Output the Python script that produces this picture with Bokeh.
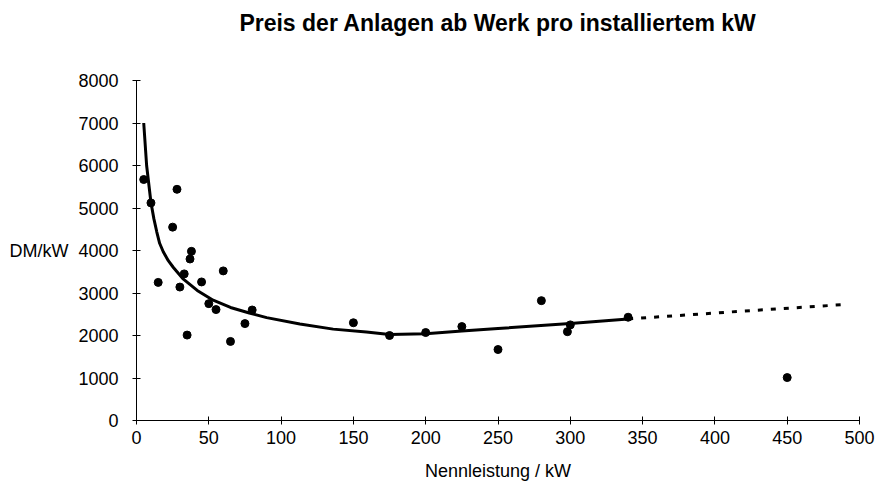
from bokeh.plotting import figure
from bokeh.models import FixedTicker, Range1d, Title
from bokeh.embed import file_html
from bokeh.resources import INLINE

# Measured plants: rated power (kW) and price ex works (DM/kW)
kw = [5, 10, 15, 25, 28, 30, 33, 35, 37, 38, 45, 50, 55, 60, 65, 75, 80,
      150, 175, 200, 225, 250, 280, 298, 300, 340, 450]
preis = [5670, 5120, 3250, 4550, 5440, 3140, 3450, 2010, 3800, 3980, 3260, 2750,
         2610, 3520, 1860, 2280, 2600, 2300, 2000, 2070, 2210, 1670, 2820, 2090,
         2250, 2430, 1010]

# Trend curve (solid part)
trend_kw = [5, 7, 10, 12, 14, 16, 18.5, 22, 25.5, 32, 42, 53, 65, 78, 90, 113,
            136, 159, 175, 200, 225, 250, 300, 340]
trend_preis = [7000, 6000, 5130, 4750, 4440, 4170, 3970, 3760, 3600, 3340, 3060,
               2830, 2660, 2530, 2420, 2270, 2150, 2080, 2025, 2040, 2105, 2165,
               2285, 2390]

# Extrapolated (dotted) part
extra_kw = [340, 420, 488]
extra_preis = [2390, 2575, 2725]

x_ticks = [0, 50, 100, 150, 200, 250, 300, 350, 400, 450, 500]
y_ticks = [0, 1000, 2000, 3000, 4000, 5000, 6000, 7000, 8000]

FONT = "Liberation Sans"

p = figure(width=879, height=488, output_backend="svg", toolbar_location=None,
           x_range=Range1d(0, 500), y_range=Range1d(0, 8000),
           title="Preis der Anlagen ab Werk pro installiertem kW",
           min_border_left=136, min_border_right=20, min_border_top=80,
           min_border_bottom=68)

p.title.align = "center"
p.title.text_font = FONT
p.title.text_font_size = "23px"
p.title.text_font_style = "bold"
p.title.text_color = "black"
p.title.standoff = 10

# empty spacer panel between the frame and the title
p.add_layout(Title(text=" ", text_font_size="10px", standoff=27), "above")

p.grid.visible = False
p.outline_line_color = None
p.background_fill_color = "white"
p.border_fill_color = "white"

for ax in (p.xaxis[0], p.yaxis[0]):
    ax.axis_line_color = "black"
    ax.major_tick_line_color = "black"
    ax.minor_tick_line_color = None
    ax.major_tick_in = 4
    ax.major_tick_out = 4
    ax.major_label_text_font = FONT
    ax.major_label_text_font_size = "18px"
    ax.major_label_text_color = "black"
    ax.axis_label_text_font = FONT
    ax.axis_label_text_font_size = "18px"
    ax.axis_label_text_font_style = "normal"
    ax.axis_label_text_color = "black"

p.xaxis.ticker = FixedTicker(ticks=x_ticks)
p.yaxis.ticker = FixedTicker(ticks=y_ticks)
p.xaxis.axis_label = "Nennleistung / kW"
p.yaxis.axis_label = "DM/kW"
p.yaxis.axis_label_orientation = "horizontal"
p.xaxis.major_label_standoff = 6
p.yaxis.major_label_standoff = 14
p.xaxis.axis_label_standoff = 14
p.yaxis.axis_label_standoff = 7

p.line(trend_kw, trend_preis, line_color="black", line_width=3)
p.line(extra_kw, extra_preis, line_color="black", line_width=3, line_dash="5 8")
p.scatter(kw, preis, size=8, fill_color="black", line_color="black")

open("out.html", "w").write(file_html(p, INLINE))
